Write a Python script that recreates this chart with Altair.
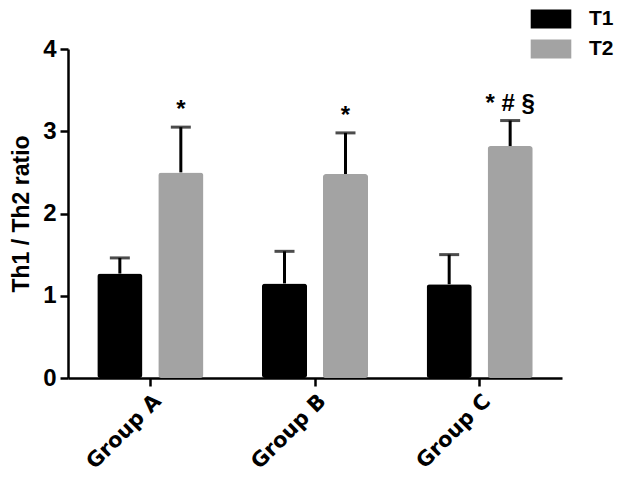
import altair as alt
import pandas as pd

groups = ["Group A", "Group B", "Group C"]
times = ["T1", "T2"]
t1_values = [1.27, 1.15, 1.14]
t1_errors = [0.19, 0.39, 0.36]
t2_values = [2.50, 2.48, 2.82]
t2_errors = [0.55, 0.50, 0.31]
t2_annot = ["*", "*", "* # §"]

rows = []
for i, g in enumerate(groups):
    rows.append({"group": g, "time": "T1", "value": t1_values[i],
                 "upper": t1_values[i] + t1_errors[i], "annot": ""})
    rows.append({"group": g, "time": "T2", "value": t2_values[i],
                 "upper": t2_values[i] + t2_errors[i], "annot": t2_annot[i]})
df = pd.DataFrame(rows)

FONT = "Liberation Sans"

x = alt.X("group:N", sort=groups, title=None,
          scale=alt.Scale(paddingInner=0, paddingOuter=0),
          axis=alt.Axis(labelAngle=-45, labelAlign="right", labelBaseline="top",
                        labelFont="DejaVu Sans", labelFontSize=21, labelFontWeight="bold",
                        labelColor="black", labelPadding=4,
                        domainColor="black", domainWidth=2.5,
                        tickColor="black", tickWidth=2.5, tickSize=8))
xo = alt.XOffset("time:N", sort=times,
                 scale=alt.Scale(paddingInner=0.26, paddingOuter=0.48))
y = alt.Y("value:Q", title="Th1 / Th2 ratio",
          scale=alt.Scale(domain=[0, 4], nice=False),
          axis=alt.Axis(values=[0, 1, 2, 3, 4], grid=False, format="d",
                        labelFont=FONT, labelFontSize=24, labelFontWeight="bold",
                        labelColor="black", labelPadding=4,
                        titleFont=FONT, titleFontSize=23, titleFontWeight="bold",
                        titleColor="black", titlePadding=9,
                        domainColor="black", domainWidth=2.5,
                        tickColor="black", tickWidth=2.5, tickSize=8))

color = alt.Color("time:N", sort=times,
                  scale=alt.Scale(domain=times, range=["#000000", "#a3a3a3"]),
                  legend=alt.Legend(orient="none", legendX=468.5, legendY=-44.5,
                                    title=None, padding=0,
                                    symbolType="M-1.4,-0.655H1.4V0.655H-1.4Z",
                                    symbolSize=841, symbolStrokeWidth=0,
                                    labelFont=FONT, labelFontSize=21,
                                    labelFontWeight="bold", labelColor="black",
                                    labelOffset=23.5, rowPadding=5))

base = alt.Chart(df)

bars = base.mark_bar(cornerRadius=3).encode(x=x, xOffset=xo, y=y, color=color)

rules = base.mark_rule(color="black", strokeWidth=3).encode(
    x=x, xOffset=xo, y="value:Q", y2="upper:Q")

caps = base.mark_tick(color="black", thickness=3, size=20, orient="horizontal").encode(
    x=x, xOffset=xo, y="upper:Q")

texts = base.mark_text(font=FONT, fontSize=24, fontWeight="bold", color="black",
                       baseline="alphabetic", dy=-10).encode(
    x=x, xOffset=xo, y="upper:Q", text="annot:N")

chart = alt.layer(bars, rules, caps, texts).properties(
    width=494, height=329,
    padding={"left": 60, "top": 41, "right": 60, "bottom": 102},
    autosize=alt.AutoSizeParams(type="none"),
).configure_view(stroke=None)

chart.save("out.html", embed_options={"renderer": "svg", "actions": False})
